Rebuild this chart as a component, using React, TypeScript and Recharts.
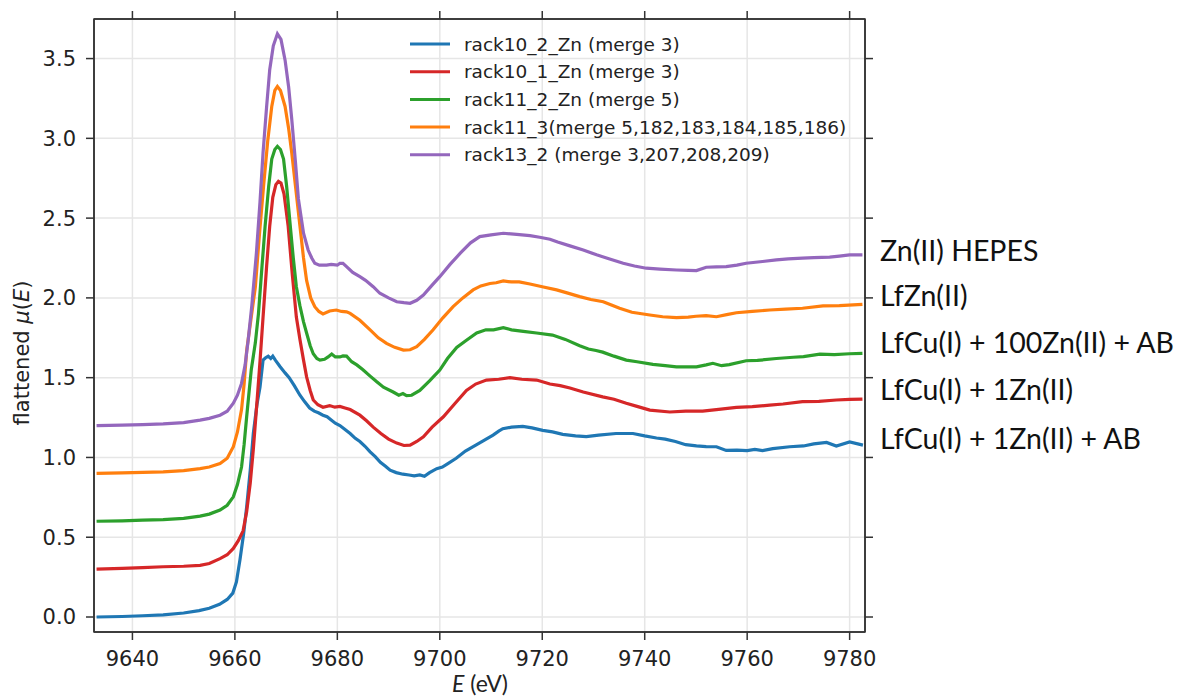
import { LineChart, Line, XAxis, YAxis, CartesianGrid } from "recharts";

// [E (eV), flattened mu(E)]
const rack10_2: number[][] = [
  [9633, 0.0], [9638, 0.003], [9642, 0.008], [9646, 0.013], [9650, 0.025], [9653, 0.04],
  [9655, 0.055], [9657, 0.08], [9658.5, 0.11], [9659.6, 0.15], [9660.3, 0.22], [9661, 0.36],
  [9661.7, 0.52], [9662.3, 0.69], [9663, 0.92], [9663.6, 1.15], [9664.3, 1.33], [9664.9, 1.44],
  [9665.5, 1.61], [9666, 1.625], [9666.5, 1.635], [9667, 1.62], [9667.4, 1.635], [9667.9, 1.61],
  [9668.8, 1.57], [9669.8, 1.53], [9670.6, 1.5], [9671.6, 1.45], [9672.7, 1.39], [9673.6, 1.35],
  [9674.6, 1.31], [9675.5, 1.29], [9676.3, 1.28], [9677.2, 1.265], [9678, 1.255], [9678.8, 1.235],
  [9679.6, 1.215], [9680.5, 1.2], [9681.5, 1.175], [9682.5, 1.15], [9683.5, 1.12], [9684.4, 1.1],
  [9685.4, 1.07], [9686.4, 1.035], [9687.4, 1.005], [9688.4, 0.97], [9689.4, 0.945], [9690.3, 0.92],
  [9691.5, 0.905], [9692.8, 0.895], [9694, 0.89], [9695, 0.885], [9696.1, 0.89], [9697, 0.882],
  [9698, 0.905], [9699.4, 0.93], [9700.5, 0.94], [9701.5, 0.96], [9703.2, 0.995], [9705, 1.04],
  [9707.2, 1.08], [9708.8, 1.11], [9710.4, 1.14], [9711.5, 1.165], [9712.3, 1.18], [9714, 1.19],
  [9716.2, 1.195], [9718, 1.185], [9720.1, 1.17], [9722, 1.16], [9724, 1.145], [9726.5, 1.135],
  [9728.6, 1.13], [9731, 1.14], [9734.4, 1.15], [9737.7, 1.15], [9740, 1.135], [9742.3, 1.122],
  [9744, 1.115], [9746, 1.1], [9748, 1.08], [9750.1, 1.072], [9752, 1.068], [9754, 1.067],
  [9755.9, 1.044], [9758, 1.046], [9760, 1.043], [9761.5, 1.05], [9763, 1.043], [9765, 1.055],
  [9768.3, 1.067], [9771, 1.072], [9773, 1.085], [9775.5, 1.094], [9777.4, 1.072], [9780, 1.097],
  [9782.6, 1.077],
];

const rack10_1: number[][] = [
  [9633, 0.3], [9638, 0.305], [9642, 0.31], [9646, 0.315], [9650, 0.318], [9653.2, 0.324],
  [9655, 0.335], [9657.1, 0.366], [9658.5, 0.39], [9659.7, 0.43], [9660.7, 0.48], [9661.6, 0.54],
  [9662.3, 0.66], [9663, 0.84], [9663.6, 1.05], [9664.2, 1.3], [9664.9, 1.6], [9665.5, 1.88],
  [9666.2, 2.2], [9666.8, 2.45], [9667.4, 2.63], [9668, 2.71], [9668.5, 2.73], [9669, 2.72],
  [9669.6, 2.65], [9670.4, 2.45], [9671.2, 2.15], [9672, 1.88], [9672.7, 1.74], [9673.4, 1.61],
  [9674, 1.505], [9674.7, 1.42], [9675.3, 1.36], [9676.2, 1.33], [9677.2, 1.315], [9678.5, 1.325],
  [9679.5, 1.315], [9680.5, 1.32], [9681.5, 1.31], [9682.5, 1.3], [9684.4, 1.265], [9685.7, 1.23],
  [9687, 1.19], [9688.5, 1.15], [9690, 1.115], [9691.6, 1.09], [9693, 1.075], [9694.2, 1.077],
  [9695.5, 1.1], [9696.8, 1.13], [9698.5, 1.19], [9700.7, 1.255], [9703, 1.34], [9705.2, 1.42],
  [9707, 1.46], [9709.1, 1.485], [9711.5, 1.49], [9713.7, 1.5], [9716, 1.49], [9718.9, 1.485],
  [9721.5, 1.46], [9723.5, 1.45], [9725.4, 1.435], [9728, 1.41], [9731.8, 1.38], [9734, 1.365],
  [9736.4, 1.34], [9738.5, 1.32], [9741, 1.297], [9744.9, 1.285], [9748, 1.29], [9751.3, 1.29],
  [9754, 1.3], [9757.9, 1.314], [9761, 1.318], [9764.4, 1.328], [9767, 1.335], [9770.8, 1.35],
  [9774, 1.352], [9777.4, 1.36], [9780, 1.364], [9782.5, 1.366],
];

const rack11_2: number[][] = [
  [9633, 0.6], [9638, 0.603], [9642, 0.607], [9646, 0.61], [9650, 0.618], [9653.2, 0.632],
  [9655, 0.645], [9657.1, 0.67], [9658.5, 0.7], [9659.7, 0.753], [9660.5, 0.83], [9661.3, 0.94],
  [9661.8, 1.08], [9662.3, 1.255], [9662.8, 1.42], [9663.2, 1.55], [9664, 1.72], [9664.6, 1.9],
  [9665.3, 2.2], [9665.9, 2.45], [9666.6, 2.7], [9667.2, 2.87], [9667.8, 2.93], [9668.3, 2.95],
  [9668.9, 2.93], [9669.5, 2.87], [9670.1, 2.7], [9670.7, 2.49], [9671.4, 2.25], [9672, 2.07],
  [9672.7, 1.95], [9673.4, 1.85], [9674, 1.78], [9674.7, 1.7], [9675.3, 1.65], [9676, 1.62],
  [9676.6, 1.61], [9677.5, 1.615], [9678.2, 1.63], [9678.9, 1.648], [9679.6, 1.63], [9680.5, 1.63],
  [9681.1, 1.636], [9681.8, 1.635], [9682.8, 1.6], [9683.8, 1.58], [9685, 1.55], [9686.4, 1.51],
  [9687.7, 1.474], [9689, 1.44], [9690.9, 1.41], [9692, 1.39], [9692.8, 1.4], [9693.5, 1.387],
  [9694.5, 1.39], [9696.1, 1.42], [9698, 1.48], [9700, 1.548], [9701.5, 1.62], [9703.3, 1.69],
  [9705, 1.73], [9707.2, 1.78], [9709, 1.8], [9710.5, 1.8], [9712.4, 1.813], [9714, 1.8],
  [9716.3, 1.79], [9718.9, 1.78], [9722, 1.767], [9724.5, 1.74], [9727.3, 1.7], [9729, 1.68],
  [9730.5, 1.67], [9731.8, 1.66], [9734, 1.635], [9736.4, 1.61], [9738.5, 1.6], [9741.6, 1.583],
  [9744, 1.575], [9746.2, 1.568], [9750.1, 1.568], [9752, 1.58], [9753.3, 1.59], [9755, 1.575],
  [9756.5, 1.582], [9759.8, 1.606], [9762, 1.608], [9765.7, 1.62], [9769, 1.628], [9771, 1.632],
  [9774.2, 1.648], [9777, 1.645], [9780, 1.65], [9782.5, 1.652],
];

const rack11_3: number[][] = [
  [9633, 0.9], [9638, 0.903], [9642, 0.906], [9646, 0.91], [9650, 0.918], [9653.2, 0.93],
  [9655, 0.94], [9657.1, 0.962], [9658.5, 0.995], [9659.7, 1.067], [9660.5, 1.16], [9661.3, 1.3],
  [9661.8, 1.46], [9662.3, 1.67], [9663.2, 1.88], [9664, 2.07], [9664.8, 2.4], [9665.6, 2.7],
  [9666.4, 2.98], [9667.2, 3.2], [9667.8, 3.3], [9668.3, 3.325], [9668.9, 3.3], [9669.8, 3.2],
  [9670.5, 3.06], [9671.1, 2.91], [9671.9, 2.68], [9672.7, 2.45], [9673.4, 2.25], [9674, 2.11],
  [9674.8, 2.0], [9675.6, 1.945], [9676.4, 1.915], [9677.2, 1.9], [9678.5, 1.918], [9679.8, 1.924],
  [9680.8, 1.915], [9681.8, 1.913], [9682.5, 1.903], [9684.4, 1.86], [9686.4, 1.8], [9688, 1.75],
  [9689.6, 1.715], [9691.2, 1.69], [9692.9, 1.673], [9694.2, 1.675], [9695.5, 1.694], [9697, 1.74],
  [9698.7, 1.8], [9700.6, 1.875], [9702.6, 1.945], [9704.5, 2.0], [9706.5, 2.05], [9708, 2.075],
  [9709.8, 2.09], [9711, 2.095], [9712.4, 2.106], [9714, 2.1], [9715.5, 2.1], [9717.6, 2.087],
  [9720, 2.07], [9722.8, 2.05], [9725, 2.03], [9727.3, 2.008], [9729.5, 1.99], [9731.9, 1.976],
  [9733.5, 1.955], [9735.1, 1.935], [9737.5, 1.91], [9741, 1.893], [9743.5, 1.882], [9746.2, 1.876],
  [9748.5, 1.88], [9750, 1.885], [9752, 1.889], [9754, 1.882], [9756, 1.895], [9757.9, 1.907],
  [9761, 1.915], [9764.4, 1.924], [9767.5, 1.93], [9770.8, 1.935], [9774.8, 1.95], [9778, 1.952],
  [9782.5, 1.96],
];

const rack13_2: number[][] = [
  [9633, 1.2], [9638, 1.203], [9642, 1.206], [9646, 1.21], [9650, 1.218], [9653.2, 1.234],
  [9655, 1.245], [9657.1, 1.265], [9658.5, 1.29], [9659.7, 1.34], [9660.5, 1.39], [9661.3, 1.464],
  [9662, 1.58], [9662.6, 1.736], [9663.3, 1.95], [9664.2, 2.28], [9664.9, 2.6], [9665.5, 2.91],
  [9666.2, 3.2], [9666.8, 3.43], [9667.5, 3.58], [9668.3, 3.655], [9669, 3.62], [9669.8, 3.49],
  [9670.5, 3.32], [9671.1, 3.12], [9671.8, 2.86], [9672.4, 2.62], [9673.4, 2.405], [9674.3, 2.3],
  [9675, 2.25], [9675.6, 2.217], [9676.5, 2.205], [9677.9, 2.206], [9678.8, 2.21], [9680, 2.205],
  [9680.5, 2.217], [9681.1, 2.217], [9681.8, 2.196], [9683, 2.16], [9684.4, 2.133], [9685.5, 2.11],
  [9687, 2.07], [9688.3, 2.029], [9690, 2.0], [9691.6, 1.976], [9693, 1.97], [9694.2, 1.966],
  [9695.5, 1.985], [9696.8, 2.018], [9698.5, 2.08], [9700, 2.133], [9702, 2.21], [9704, 2.28],
  [9706, 2.345], [9707.8, 2.384], [9710, 2.395], [9712.4, 2.405], [9715, 2.398], [9717.6, 2.39],
  [9719.5, 2.38], [9721.5, 2.368], [9723, 2.35], [9725.4, 2.326], [9728, 2.3], [9730.6, 2.27],
  [9733, 2.245], [9735.8, 2.217], [9738, 2.2], [9740.3, 2.186], [9743, 2.18], [9746.2, 2.175],
  [9748.5, 2.173], [9750.1, 2.171], [9752, 2.192], [9754, 2.194], [9755.9, 2.196], [9758, 2.205],
  [9759.8, 2.217], [9763, 2.228], [9765.7, 2.238], [9768, 2.245], [9770.8, 2.249], [9773, 2.252],
  [9776.1, 2.255], [9778, 2.262], [9780, 2.27], [9782.5, 2.27],
];

const seriesNames = [
  "rack10_2_Zn (merge 3)",
  "rack10_1_Zn (merge 3)",
  "rack11_2_Zn (merge 5)",
  "rack11_3(merge 5,182,183,184,185,186)",
  "rack13_2 (merge 3,207,208,209)",
];
const seriesColors = ["#1f77b4", "#d62728", "#2ca02c", "#ff7f0e", "#9467bd"];
const seriesPoints = [rack10_2, rack10_1, rack11_2, rack11_3, rack13_2];

// sample names written to the right of the plot, top to bottom
const sampleLabels = [
  "Zn(II) HEPES",
  "LfZn(II)",
  "LfCu(I) + 100Zn(II) + AB",
  "LfCu(I) + 1Zn(II)",
  "LfCu(I) + 1Zn(II) + AB",
];
const sampleLabelY = [261, 306, 353, 400, 449];

const xTicks = [9640, 9660, 9680, 9700, 9720, 9740, 9760, 9780];
const yTicks = [0, 0.5, 1, 1.5, 2, 2.5, 3, 3.5];
const xDomain = [9632.5, 9783];
const yDomain = [-0.094, 3.748];

const series = seriesNames.map((name, i) => ({
  name,
  color: seriesColors[i],
  data: seriesPoints[i].map(([E, mu]) => ({ E, mu })),
}));

// plot box in page pixels; chart margins are derived from it
const W = 1178;
const H = 697;
const BOX = { left: 94, top: 19, right: 865, bottom: 632 };

const AXIS = "#333";
const TICK_TEXT = { fontSize: 21, fill: "#222", fontFamily: "DejaVu Sans" };

export default function App() {
  return (
    <div style={{ position: "absolute", left: 0, top: 0, width: W, height: H, background: "#fff" }}>
      <LineChart
        width={W}
        height={H}
        margin={{ top: BOX.top - 1, right: W - BOX.right - 1, bottom: 0, left: 0 }}
      >
        <CartesianGrid stroke="#e6e6e6" strokeWidth={1.5} />
        <XAxis
          dataKey="E"
          type="number"
          domain={xDomain}
          ticks={xTicks}
          allowDataOverflow
          height={H - BOX.bottom}
          stroke={AXIS}
          strokeWidth={1.5}
          tickSize={8}
          tickMargin={11}
          tick={TICK_TEXT}
        />
        <XAxis
          xAxisId="top"
          orientation="top"
          dataKey="E"
          type="number"
          domain={xDomain}
          ticks={xTicks}
          allowDataOverflow
          height={1}
          stroke={AXIS}
          strokeWidth={1.5}
          tickSize={8}
          tickFormatter={() => ""}
        />
        <YAxis
          type="number"
          domain={yDomain}
          ticks={yTicks}
          allowDataOverflow
          width={BOX.left}
          stroke={AXIS}
          strokeWidth={1.5}
          tickSize={8}
          tickMargin={10}
          tick={TICK_TEXT}
          tickFormatter={(v) => Number(v).toFixed(1)}
        />
        <YAxis
          yAxisId="right"
          orientation="right"
          type="number"
          domain={yDomain}
          ticks={yTicks}
          allowDataOverflow
          width={1}
          stroke={AXIS}
          strokeWidth={1.5}
          tickSize={8}
          tickFormatter={() => ""}
        />
        <Line
          data={series[0].data}
          dataKey="mu"
          xAxisId="top"
          yAxisId="right"
          stroke="transparent"
          dot={false}
          legendType="none"
          isAnimationActive={false}
        />
        {series.map((s) => (
          <Line
            key={s.name}
            data={s.data}
            dataKey="mu"
            name={s.name}
            type="linear"
            stroke={s.color}
            strokeWidth={3.2}
            dot={false}
            isAnimationActive={false}
          />
        ))}
      </LineChart>
      <svg width={W} height={H} style={{ position: "absolute", left: 0, top: 0, pointerEvents: "none" }}>
        {/* frame: matplotlib draws all four spines */}
        <rect
          x={BOX.left}
          y={BOX.top}
          width={BOX.right - BOX.left}
          height={BOX.bottom - BOX.top}
          fill="none"
          stroke={AXIS}
          strokeWidth={1.5}
        />
        {series.map((s, i) => (
          <g key={s.name}>
            <line x1={410} x2={450} y1={44 + i * 27.7} y2={44 + i * 27.7} stroke={s.color} strokeWidth={3} />
            <text x={464} y={44 + i * 27.7 + 6.5} fontSize={18.5} fontFamily="DejaVu Sans" fill="#222">
              {s.name}
            </text>
          </g>
        ))}
        {sampleLabels.map((t, i) => (
          <text key={t} x={880} y={sampleLabelY[i]} fontSize={28.5} fontFamily="Lato" fill="#111">
            {t}
          </text>
        ))}
        <text
          x={29}
          y={353}
          transform="rotate(-90, 29, 353)"
          textAnchor="middle"
          fontSize={21}
          fontFamily="DejaVu Sans"
          fill="#222"
        >
          flattened <tspan fontStyle="italic">μ</tspan>(<tspan fontStyle="italic">E</tspan>)
        </text>
        <text x={480} y={692} textAnchor="middle" fontSize={23} fontFamily="Lato" fill="#222">
          <tspan fontStyle="italic">E</tspan> (eV)
        </text>
      </svg>
    </div>
  );
}
